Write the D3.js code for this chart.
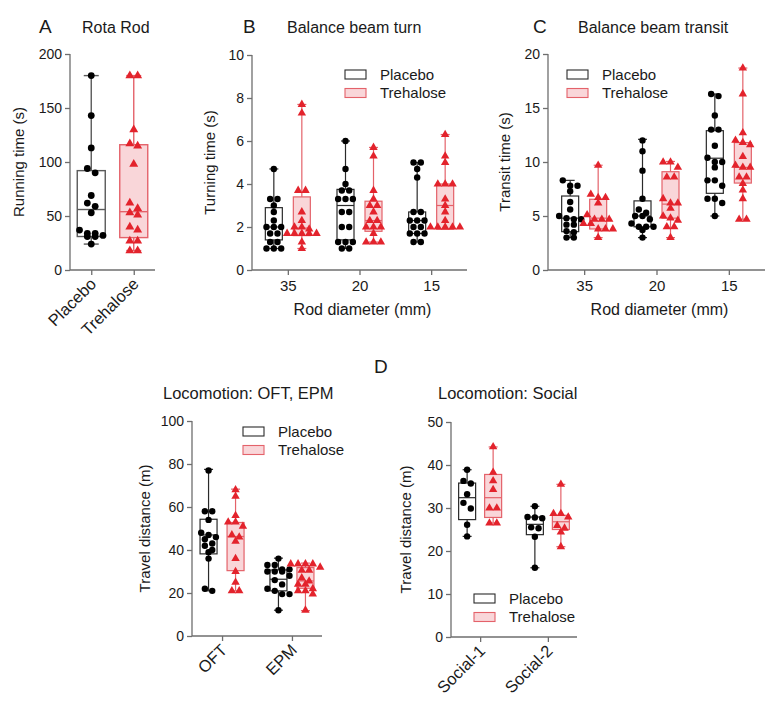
<!DOCTYPE html>
<html><head><meta charset="utf-8">
<script src="https://cdn.jsdelivr.net/npm/d3@7/dist/d3.min.js"></script>
<style>
body{margin:0;background:#fff;}
svg{font-family:"Liberation Sans",Arial,Helvetica,sans-serif;}
</style></head><body>
<svg id="chart" width="771" height="706"></svg>
<script>
// ---------------- DATA ----------------
const groups = ["Placebo", "Trehalose"];

// A: Rota Rod running time (s)
const rotaCategories = ["Placebo", "Trehalose"];
const rotaPlacebo = [180,143,113,94,90,69,62,59,53,37,34,34,32,31,31,24];
const rotaTrehalose = [180,180,130,117,115,98,62,57,53,51,40,37,27,27,18,18];
// box summaries [min, q1, median, q3, max]
const rotaPlaceboBox = [[24,31,56,92,180]];
const rotaTrehaloseBox = [[18,30,54,116,180]];
const rotaTicks = [0,50,100,150,200];

// B: Balance beam turn (s), by rod diameter
const rodCategories = ["35","20","15"];
const turnPlacebo = [
  [4.7,3.3,3.3,3.0,2.7,2.3,2.0,2.0,2.0,1.7,1.7,1.3,1.3,1.0,1.0,1.0],
  [6.0,4.7,4.0,3.7,3.7,3.3,3.3,3.3,2.7,2.7,2.0,2.0,1.3,1.3,1.3,1.0,1.0],
  [5.0,5.0,4.7,4.3,2.7,2.7,2.3,2.3,2.3,2.0,2.0,1.7,1.7,1.7,1.3,1.3]
];
const turnTrehalose = [
  [7.7,7.3,3.7,3.7,2.7,2.3,2.0,2.0,1.9,1.7,1.7,1.7,1.7,1.7,1.3,1.0],
  [5.7,5.3,3.7,3.3,3.0,3.0,2.7,2.3,2.3,2.0,2.0,2.0,1.7,1.3,1.3,1.3],
  [6.3,5.3,5.0,4.0,4.0,4.0,3.3,3.0,2.7,2.3,2.0,2.0,2.0,2.0,2.0]
];
const turnPlaceboBox = [[1.0,1.4,2.0,2.9,4.7],[1.0,1.4,3.0,3.75,6.0],[1.3,1.7,2.3,2.7,5.0]];
const turnTrehaloseBox = [[1.0,1.6,1.95,3.4,7.7],[1.3,1.8,2.3,3.2,5.7],[1.9,1.9,3.0,4.0,6.3]];
const turnTicks = [0,2,4,6,8,10];

// C: Balance beam transit (s)
const transitPlacebo = [
  [8.3,7.8,7.8,7.3,6.3,5.6,5.0,4.8,4.7,4.7,4.2,4.2,3.6,3.5,3.0,3.0],
  [12.0,11.0,9.2,6.6,5.6,5.3,5.0,5.0,4.7,4.3,4.0,4.0,4.0,3.7,3.0],
  [16.3,16.1,14.3,13.0,13.0,11.5,10.4,10.0,10.0,9.5,8.3,8.3,7.8,6.6,6.6,6.2,5.0]
];
const transitTrehalose = [
  [9.7,7.0,6.7,6.7,6.2,5.1,4.7,4.7,4.7,4.3,4.3,3.8,3.8,3.8,3.0],
  [10.0,10.0,9.5,8.6,8.6,6.6,6.2,6.2,5.7,5.0,4.8,4.6,4.0,4.0,3.0],
  [18.7,16.3,12.7,12.0,11.8,11.6,10.5,9.7,9.5,9.5,8.6,8.6,8.0,7.4,6.6,4.7,4.7]
];
const transitPlaceboBox = [[3.0,3.55,4.8,6.85,8.3],[3.0,4.0,5.0,6.4,12.1],[5.0,7.1,10.35,12.9,16.3]];
const transitTrehaloseBox = [[3.0,3.8,4.8,6.55,9.7],[3.0,4.8,6.1,9.1,10.05],[4.7,8.05,9.5,11.8,18.7]];
const transitTicks = [0,5,10,15,20];

// D left: Locomotion OFT, EPM travel distance (m)
const locoCategories = ["OFT","EPM"];
const locoPlacebo = [
  [77,58,58,54,48,47,46,45,43,42,40,39,36,22,21],
  [36,33,33,31,31,30,30,30,28,26,24,22,21,19.5,19.5,12]
];
const locoTrehalose = [
  [68,65,56,53,53,51,47,46,44,36,30,25,21,21],
  [33.5,33.5,33.5,33.5,32,30.5,30.5,27,25.5,24,24,22,21,21,19.5,12]
];
const locoPlaceboBox = [[21,38.2,47,54.3,77.5],[12,21,26.4,30.7,36.2]];
const locoTrehaloseBox = [[21,30.4,46.3,52.8,68.3],[11.8,22.2,25.6,31.8,33.9]];
const locoTicks = [0,20,40,60,80,100];

// D right: Locomotion Social travel distance (m)
const socialCategories = ["Social-1","Social-2"];
const socialPlacebo = [
  [38.9,36.3,35.7,33.2,31.2,29.9,26.1,23.4],
  [30.4,27.9,27.8,27.6,25.5,25.3,23.3,16.1]
];
const socialTrehalose = [
  [44.2,38.3,36.3,34.3,30.0,30.0,26.5,26.5],
  [35.5,28.7,28.7,27.9,25.9,25.3,24.4,21.0]
];
const socialPlaceboBox = [[23.4,27.3,32.4,35.8,38.9],[16.1,23.8,26.2,27.9,30.4]];
const socialTrehaloseBox = [[26.5,27.8,32.4,37.8,44.2],[21.0,25.0,26.8,28.3,35.5]];
const socialTicks = [0,10,20,30,40,50];

// ---------------- STYLE ----------------
const RED = "#e3232c";
const RED_STROKE = "#e4626a";
const PINK = "#f9d6d9";
const AXIS = "#6e6e6e";
const TXT = "#1a1a1a";

const svg = d3.select("#chart");

function swarm(values, y, cx, r) {
  const pts = values.map(v => ({v, y: y(v)})).sort((a,b)=>a.y-b.y);
  const rows = [];
  pts.forEach(p => {
    const last = rows[rows.length-1];
    if (last && Math.abs(p.y - last[0].y) < r*1.9) last.push(p); else rows.push([p]);
  });
  const sp = r*2.3;
  rows.forEach(row => {
    const n = row.length;
    row.forEach((p,i) => { p.x = cx + (i - (n-1)/2) * sp; });
  });
  return pts;
}

function drawPanel(cfg) {
  const g = svg.append("g");
  const y = d3.scaleLinear().domain(cfg.domain).range(cfg.yRange);
  const x = d3.scalePoint().domain(cfg.categories).range(cfg.xRange).padding(cfg.padding);

  const yAxis = d3.axisLeft(y).tickValues(cfg.ticks).tickSize(5).tickPadding(3);
  const ya = g.append("g").attr("transform", `translate(${cfg.xRange[0]},0)`).call(yAxis);
  const xAxis = d3.axisBottom(x).tickSize(5).tickFormat(cfg.rotate ? "" : d=>d).tickPadding(5);
  const xa = g.append("g").attr("transform", `translate(0,${cfg.yRange[0]})`).call(xAxis);
  [ya, xa].forEach(a => {
    a.select(".domain").attr("stroke", AXIS).attr("stroke-width", 1.3);
    a.selectAll(".tick line").attr("stroke", AXIS).attr("stroke-width", 1.3);
    a.selectAll("text").attr("fill", TXT).attr("font-size", 14).attr("font-family", "Liberation Sans, Arial, sans-serif");
  });
  xa.select(".domain").attr("d", `M${cfg.xRange[0]},0H${cfg.xRange[1]}`);
  ya.select(".domain").attr("d", `M0,${cfg.yRange[0]}V${cfg.yRange[1]}`);
  xa.selectAll("text").attr("font-size", 15);

  if (cfg.rotate) {
    cfg.categories.forEach(c => {
      g.append("text").attr("text-anchor","end").attr("font-size", 16.5).attr("fill", TXT)
        .attr("transform", `translate(${x(c)+6},${cfg.yRange[0]+15}) rotate(-45)`)
        .text(c);
    });
  }

  const series = [
    {name:"Placebo", data: cfg.placebo, box: cfg.placeboBox, off: -cfg.offset, stroke: cfg.placeboStroke || "#2a2a2a", fill:"#fff", mark:"circle", color:"#000"},
    {name:"Trehalose", data: cfg.trehalose, box: cfg.trehaloseBox, off: cfg.offset, stroke: RED_STROKE, fill: PINK, mark:"triangle", color: RED}
  ];
  series.forEach((s, k) => {
    // in single-category mode each series sits on its own tick
    const cats = cfg.singleCat ? [cfg.categories[k]] : cfg.categories;
    cats.forEach((c, i) => {
      const cx = x(c) + s.off;
      const [mn, q1, md, q3, mx] = s.box[i];
      const bw = cfg.boxW, cap = cfg.capW;
      const sg = g.append("g");
      const sw = cfg.sw || 1.2;
      sg.append("line").attr("x1",cx).attr("x2",cx).attr("y1",y(mx)).attr("y2",y(q3)).attr("stroke",s.stroke).attr("stroke-width",sw);
      sg.append("line").attr("x1",cx).attr("x2",cx).attr("y1",y(q1)).attr("y2",y(mn)).attr("stroke",s.stroke).attr("stroke-width",sw);
      sg.append("line").attr("x1",cx-cap/2).attr("x2",cx+cap/2).attr("y1",y(mx)).attr("y2",y(mx)).attr("stroke",s.stroke).attr("stroke-width",sw);
      sg.append("line").attr("x1",cx-cap/2).attr("x2",cx+cap/2).attr("y1",y(mn)).attr("y2",y(mn)).attr("stroke",s.stroke).attr("stroke-width",sw);
      sg.append("rect").attr("x",cx-bw/2).attr("y",y(q3)).attr("width",bw).attr("height",y(q1)-y(q3))
        .attr("fill",s.fill).attr("stroke",s.stroke).attr("stroke-width",sw);
      sg.append("line").attr("x1",cx-bw/2).attr("x2",cx+bw/2).attr("y1",y(md)).attr("y2",y(md)).attr("stroke",s.stroke).attr("stroke-width",sw);
      const pts = swarm(s.data[i], y, cx, cfg.r);
      if (s.mark === "circle") {
        sg.selectAll("circle.pt").data(pts).join("circle").attr("class","pt")
          .attr("cx",d=>d.x).attr("cy",d=>d.y).attr("r",cfg.r).attr("fill",s.color);
      } else {
        const sym = d3.symbol().type(d3.symbolTriangle).size(cfg.r*cfg.r*3.0);
        sg.selectAll("path.pt").data(pts).join("path").attr("class","pt")
          .attr("d", sym).attr("transform", d=>`translate(${d.x},${d.y})`).attr("fill",s.color);
      }
    });
  });

  const ymid = (cfg.yRange[0]+cfg.yRange[1])/2;
  g.append("text").attr("transform",`translate(${cfg.yTitleX},${ymid}) rotate(-90)`)
    .attr("text-anchor","middle").attr("font-size",15).attr("fill",TXT).text(cfg.yTitle);
  if (cfg.xTitle) {
    g.append("text").attr("x",(cfg.xRange[0]+cfg.xRange[1])/2 + 3).attr("y",cfg.xTitleY)
      .attr("text-anchor","middle").attr("font-size",16).attr("fill",TXT).text(cfg.xTitle);
  }
  g.append("text").attr("x",cfg.titleX).attr("y",cfg.titleY).attr("font-size",cfg.titleSize || 16).attr("fill",TXT).text(cfg.title);
  if (cfg.letter) {
    g.append("text").attr("x",cfg.letterX).attr("y",cfg.letterY).attr("font-size",19).attr("fill",TXT).text(cfg.letter);
  }
  if (cfg.legend) {
    const [lx, ly] = cfg.legend;
    groups.forEach((name, k) => {
      const st = k===0 ? {s:"#2a2a2a", f:"#fff"} : {s:RED_STROKE, f:PINK};
      g.append("rect").attr("x",lx).attr("y",ly + k*18.5).attr("width",21).attr("height",9)
        .attr("fill",st.f).attr("stroke",st.s).attr("stroke-width",1.1);
      g.append("text").attr("x",lx+35).attr("y",ly + k*18.5 + 9.5).attr("font-size",15).attr("fill",TXT).text(name);
    });
  }
}

drawPanel({categories: rotaCategories, domain:[0,200], ticks: rotaTicks, xRange:[70,155], yRange:[270,54], padding:0.5,
  placebo:[rotaPlacebo], trehalose:[rotaTrehalose], placeboBox: rotaPlaceboBox, trehaloseBox: rotaTrehaloseBox,
  offset:0, boxW:28, capW:15, r:3.4, rotate:true, yTitle:"Running time (s)", yTitleX:24, placeboStroke:"#5a5a5a", sw:1.4,
  title:"Rota Rod", titleX:82, titleY:33, letter:"A", letterX:39, letterY:33, singleCat:true});

drawPanel({categories: rodCategories, domain:[0,10], ticks: turnTicks, xRange:[252,467], yRange:[270,55], padding:0.5,
  placebo: turnPlacebo, trehalose: turnTrehalose, placeboBox: turnPlaceboBox, trehaloseBox: turnTrehaloseBox,
  offset:14, boxW:17, capW:9, r:3.2, yTitle:"Turning time (s)", yTitleX:215, xTitle:"Rod diameter (mm)", xTitleY:315,
  title:"Balance beam turn", titleX:287, titleY:33, letter:"B", letterX:243, letterY:33, legend:[345,70]});

drawPanel({categories: rodCategories, domain:[0,20], ticks: transitTicks, xRange:[548,765], yRange:[270,54], padding:0.5,
  placebo: transitPlacebo, trehalose: transitTrehalose, placeboBox: transitPlaceboBox, trehaloseBox: transitTrehaloseBox,
  offset:14, boxW:17, capW:9, r:3.2, yTitle:"Transit time (s)", yTitleX:510, xTitle:"Rod diameter (mm)", xTitleY:315,
  title:"Balance beam transit", titleX:578, titleY:33, letter:"C", letterX:533, letterY:33, legend:[567,70]});

drawPanel({categories: locoCategories, domain:[0,100], ticks: locoTicks, xRange:[192,322], yRange:[636,421], padding:0.43,
  placebo: locoPlacebo, trehalose: locoTrehalose, placeboBox: locoPlaceboBox, trehaloseBox: locoTrehaloseBox,
  offset:13.5, boxW:17, capW:9, r:3.2, rotate:true, yTitle:"Travel distance (m)", yTitleX:150,
  title:"Locomotion: OFT, EPM", titleX:163, titleY:399, titleSize:16.5, legend:[243,427]});

drawPanel({categories: socialCategories, domain:[0,50], ticks: socialTicks, xRange:[451,577], yRange:[637,422], padding:0.43,
  placebo: socialPlacebo, trehalose: socialTrehalose, placeboBox: socialPlaceboBox, trehaloseBox: socialTrehaloseBox,
  offset:13, boxW:17, capW:9, r:3.2, rotate:true, yTitle:"Travel distance (m)", yTitleX:411,
  title:"Locomotion: Social", titleX:438, titleY:399, titleSize:16.5, letter:"D", letterX:374, letterY:373, legend:[474,594]});
</script>
</body></html>
